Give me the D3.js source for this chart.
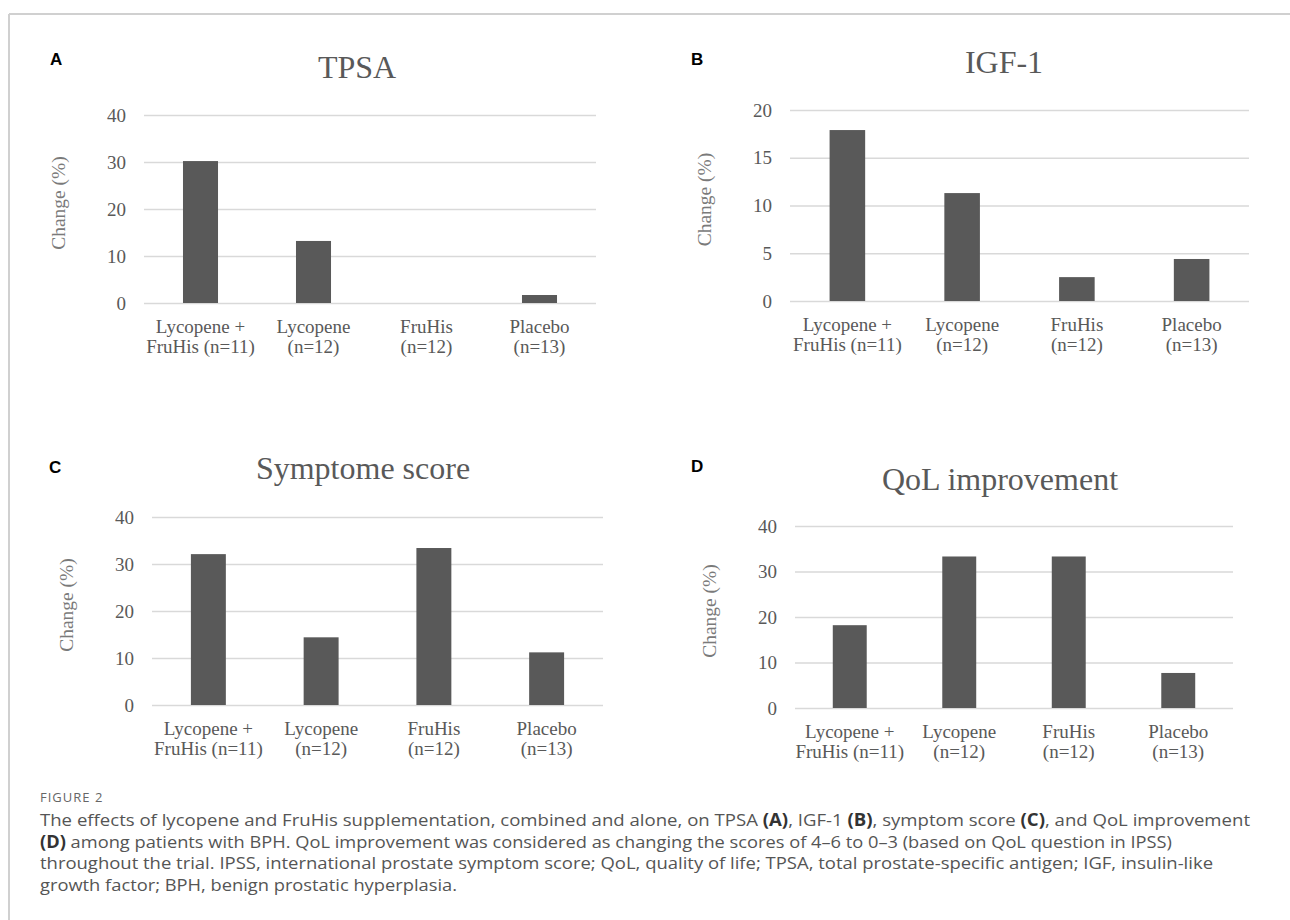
<!DOCTYPE html>
<html>
<head>
<meta charset="utf-8">
<script src="https://cdn.jsdelivr.net/npm/d3@7"></script>
<style>
  body { margin: 0; background: #fff; }
  .grid line { stroke: #d9d9d9; stroke-width: 1.5; }
  .grid text { font-family: "Liberation Serif", "Times New Roman", serif; font-size: 19px; fill: #595959; }
  .xlab text { font-family: "Liberation Serif", "Times New Roman", serif; font-size: 19px; fill: #595959; }
</style>
</head>
<body>
<div id="fig"></div>
<script>
var width = 1290, height = 920;

// data
var categories = [["Lycopene +", "FruHis (n=11)"], ["Lycopene", "(n=12)"], ["FruHis", "(n=12)"], ["Placebo", "(n=13)"]];
var panelLetters = ["A", "B", "C", "D"];
var panelTitles = ["TPSA", "IGF-1", "Symptome score", "QoL improvement"];
var tpsaValues = [30.2, 13.2, 0, 1.7];
var igfValues = [17.9, 11.3, 2.5, 4.4];
var symptomValues = [32.1, 14.4, 33.4, 11.2];
var qolValues = [18.2, 33.3, 33.3, 7.7];
var yTicks = [[0, 10, 20, 30, 40], [0, 5, 10, 15, 20], [0, 10, 20, 30, 40], [0, 10, 20, 30, 40]];

var values = [tpsaValues, igfValues, symptomValues, qolValues];

// plot boxes (layout only)
var layout = [
  {x0: 144, x1: 596, yb: 303, yt: 115, lx: 50,  ly: 65,  tx: 357,  ty: 78},
  {x0: 790, x1: 1249, yb: 301, yt: 110, lx: 691, ly: 65,  tx: 1004, ty: 73},
  {x0: 152, x1: 603, yb: 705, yt: 517, lx: 49,  ly: 473, tx: 363,  ty: 479},
  {x0: 795, x1: 1233, yb: 708, yt: 526, lx: 691, ly: 472, tx: 1000, ty: 490}
];

var svg = d3.select("#fig")
  .append("svg")
  .attr("width", width)
  .attr("height", height)
  .style("display", "block");

// frame
svg.append("line")
  .attr("x1", 9).attr("x2", width).attr("y1", 14).attr("y2", 14)
  .style("stroke", "#d0d0d0").style("stroke-width", 2);
svg.append("line")
  .attr("x1", 9).attr("x2", 9).attr("y1", 14).attr("y2", height)
  .style("stroke", "#d0d0d0").style("stroke-width", 2);

for (var j = 0; j < 4; j++) {
  var L = layout[j];
  var ticks = yTicks[j];

  var xScale = d3.scaleBand()
    .domain(d3.range(categories.length))
    .range([L.x0, L.x1])
    .paddingInner(0.69)
    .paddingOuter(0.345);

  var yScale = d3.scaleLinear()
    .domain([0, ticks[ticks.length - 1]])
    .range([L.yb, L.yt]);

  // grid + y tick labels
  svg.append("g")
    .attr("class", "grid")
    .attr("transform", "translate(" + L.x0 + ",0)")
    .call(d3.axisLeft(yScale)
      .tickValues(ticks)
      .tickSize(-(L.x1 - L.x0))
      .tickPadding(18))
    .call(g => g.select(".domain").remove());

  // bars
  svg.append("g")
    .selectAll("rect")
    .data(values[j])
    .enter()
    .append("rect")
    .attr("x", (d, i) => xScale(i))
    .attr("width", xScale.bandwidth())
    .attr("y", d => yScale(d))
    .attr("height", d => yScale(0) - yScale(d))
    .style("fill", "#595959");

  // category labels, two lines each
  var xg = svg.append("g")
    .attr("class", "xlab")
    .attr("transform", "translate(0," + L.yb + ")")
    .call(d3.axisBottom(xScale).tickSize(0).tickFormat(""))
    .call(g => g.select(".domain").remove());

  xg.selectAll(".tick text")
    .attr("y", 0)
    .attr("dy", null)
    .each(function(d) {
      var t = d3.select(this);
      t.append("tspan").attr("x", 0).attr("y", 30).text(categories[d][0]);
      t.append("tspan").attr("x", 0).attr("y", 50).text(categories[d][1]);
    });

  // y axis title
  svg.append("text")
    .attr("transform", "translate(" + (L.x0 - 86) + "," + ((L.yb + L.yt) / 2 - 6) + ") rotate(-90)")
    .attr("text-anchor", "middle")
    .attr("dy", "0.35em")
    .style("font-family", "'Liberation Serif', 'Times New Roman', serif")
    .style("font-size", "19.5px")
    .style("fill", "#7a7a7a")
    .text("Change (%)");

  // panel title
  svg.append("text")
    .attr("x", L.tx)
    .attr("y", L.ty)
    .attr("text-anchor", "middle")
    .style("font-family", "'Liberation Serif', 'Times New Roman', serif")
    .style("font-size", "32px")
    .style("fill", "#595959")
    .text(panelTitles[j]);

  // panel letter
  svg.append("text")
    .attr("x", L.lx)
    .attr("y", L.ly)
    .style("font-family", "'Liberation Sans', Arial, sans-serif")
    .style("font-weight", "bold")
    .style("font-size", "17px")
    .style("fill", "#000")
    .text(panelLetters[j]);
}

// caption
svg.append("text")
  .attr("x", 40)
  .attr("y", 802)
  .style("font-family", "'Open Sans', sans-serif")
  .style("font-size", "13px")
  .style("letter-spacing", "1px")
  .style("fill", "#666")
  .text("FIGURE 2");

var capLines = [
  [["The effects of lycopene and FruHis supplementation, combined and alone, on TPSA ", 0], ["(A)", 1], [", IGF-1 ", 0], ["(B)", 1],
   [", symptom score ", 0], ["(C)", 1], [", and QoL improvement", 0]],
  [["(D)", 1], [" among patients with BPH. QoL improvement was considered as changing the scores of 4\u20136 to 0\u20133 (based on QoL question in IPSS)", 0]],
  [["throughout the trial. IPSS, international prostate symptom score; QoL, quality of life; TPSA, total prostate-specific antigen; IGF, insulin-like", 0]],
  [["growth factor; BPH, benign prostatic hyperplasia.", 0]]
];
var capEnds = [1250, 1172, 1213, 457];
var capBase = [826, 848, 869, 891];

capLines.forEach(function(parts, k) {
  var t = svg.append("text")
    .attr("x", 40)
    .attr("y", capBase[k])
    .attr("textLength", capEnds[k] - 40)
    .attr("lengthAdjust", "spacingAndGlyphs")
    .style("font-family", "'Open Sans', sans-serif")
    .style("font-size", "17px")
    .style("fill", "#555");
  parts.forEach(function(p) {
    t.append("tspan")
      .style("font-weight", p[1] ? "bold" : "normal")
      .style("fill", p[1] ? "#333" : "#555")
      .text(p[0]);
  });
});
</script>
</body>
</html>
